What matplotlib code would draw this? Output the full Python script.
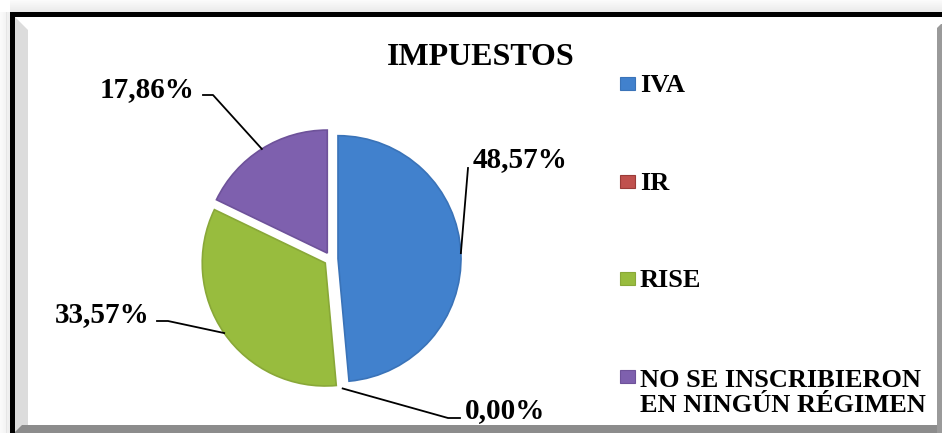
"""
Grafico de pastel: IMPUESTOS (IVA, IR, RISE, no inscritos).
"""
import matplotlib.pyplot as plt
import numpy as np
from matplotlib.patches import Rectangle, Polygon

# ====== DATOS ======
categorias = ['IVA', 'IR', 'RISE', 'NO SE INSCRIBIERON\nEN NINGÚN RÉGIMEN']
porcentajes = [48.57, 0.00, 33.57, 17.86]
etiquetas = ['48,57%', '0,00%', '33,57%', '17,86%']
colores = ['#4181CD', '#C0504D', '#98BC3E', '#7E60AE']
bordes = ['#3A73B8', '#9A3B38', '#89A838', '#6E529A']
titulo = 'IMPUESTOS'
# ===================

W, H = 942, 433           # lienzo en pixeles
FUENTE = 'Liberation Serif'
PASO_LINEA = 27           # px entre lineas de la leyenda


def ty(y):
    # coordenada y medida desde arriba -> eje hacia arriba
    return H - y


fig = plt.figure(figsize=(W / 100, H / 100), dpi=100)
ax = fig.add_axes([0, 0, 1, 1])

# 1. Pastel (radio y centro en pixeles)
R = 123
wedges, _ = ax.pie(porcentajes, colors=colores, startangle=90, counterclock=False,
                   explode=[7] * len(porcentajes), radius=R, center=(331, ty(259)),
                   wedgeprops=dict(linewidth=1.2))
for w, b, v in zip(wedges, bordes, porcentajes):
    w.set_edgecolor(b)
    if v == 0:
        w.set_linewidth(0)
ax.set_xlim(0, W)
ax.set_ylim(0, H)
ax.axis('off')

# 2. Etiquetas de datos con lineas guia
# (codo de la linea, fin de la linea, posicion del texto, alineacion)
guias = [
    ((468, 168), (468, 168), (473, 167), 'left'),
    ((448, 418), (460, 418), (465, 418), 'left'),
    ((168, 321), (157, 321), (150, 322), 'right'),
    ((213, 95), (203, 95), (195, 97), 'right'),
]
for w, txt, (codo, fin, pos, ha) in zip(wedges, etiquetas, guias):
    ang = np.deg2rad((w.theta1 + w.theta2) / 2)
    cx, cy = w.center
    borde = (cx + R * np.cos(ang), cy + R * np.sin(ang))
    ax.plot([borde[0], codo[0], fin[0]], [borde[1], ty(codo[1]), ty(fin[1])],
            color='black', lw=1.3, zorder=5)
    ax.text(pos[0], ty(pos[1]), txt, ha=ha, va='baseline', fontsize=21,
            fontweight='bold', family=FUENTE, color='black')

# 3. Titulo
ax.text(481, ty(65), titulo, ha='center', va='baseline', fontsize=23,
        fontweight='bold', family=FUENTE, color='black')

# 4. Leyenda (cuadro a la izquierda de la primera linea de cada entrada)
for i, (cat, col, b) in enumerate(zip(categorias, colores, bordes)):
    top = 77 + i * 97.7
    n = cat.count('\n')
    ax.add_patch(Rectangle((620, ty(top + 13)), 15, 13, facecolor=col,
                           edgecolor=b, lw=0.8))
    # va='baseline' toma la ultima linea: se baja n pasos
    ax.text(640, ty(top + 15 + n * PASO_LINEA), cat, ha='left', va='baseline',
            fontsize=19, fontweight='bold', family=FUENTE, color='black',
            linespacing=1.12)

# 5. Marco con bisel
for k in range(12):
    a = 0.05 + 0.02 * k
    ax.add_patch(Rectangle((10 - (12 - k) * 0.9, 0), 1, ty(12), color='gray',
                           alpha=a * 0.5, lw=0))
    ax.add_patch(Rectangle((10, ty(k + 1)), W, 1, color='gray', alpha=a * 0.6, lw=0))
ax.add_patch(Polygon([(15, ty(17)), (28, ty(30)), (28, ty(425)), (15, ty(433))],
                     closed=True, facecolor='#DCDCDC', lw=0))
ax.add_patch(Polygon([(14, 0), (22, ty(425)), (W, ty(425)), (W, 0)],
                     closed=True, facecolor='#8C8C8C', lw=0))
ax.add_patch(Polygon([(937, ty(28)), (941, ty(24)), (W, ty(24)), (W, 0), (937, 0)],
                     closed=True, facecolor='#9A9A9A', lw=0))
ax.add_patch(Rectangle((10, ty(17)), W, 5, facecolor='black', lw=0))
ax.add_patch(Rectangle((10, 0), 5, ty(12), facecolor='black', lw=0))

fig.savefig('out.png', dpi=100)
plt.close(fig)
